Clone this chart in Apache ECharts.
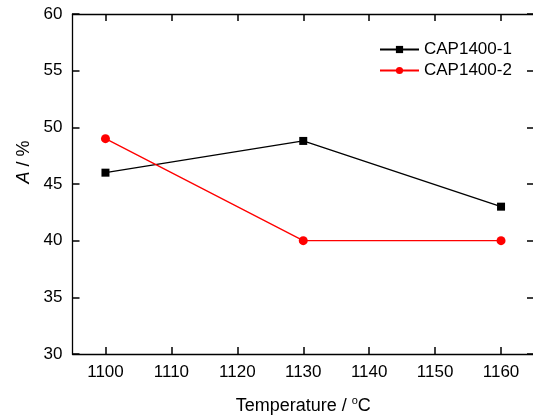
<!DOCTYPE html>
<html>
<head>
<meta charset="utf-8">
<script src="https://cdn.jsdelivr.net/npm/echarts@6/dist/echarts.min.js"></script>
<style>
  html, body { margin: 0; padding: 0; background: #fff; }
  #chart { width: 533px; height: 420px; }
</style>
</head>
<body>
<div id="chart"></div>
<script>
// values
const temperatures = [1100, 1130, 1160];
const cap1 = [46.0, 48.8, 43.0];
const cap2 = [49.0, 40.0, 40.0];
const xTicks = [1100, 1110, 1120, 1130, 1140, 1150, 1160];
const yTicks = [30, 35, 40, 45, 50, 55, 60];

const font = 'Arial, "Liberation Sans", sans-serif';

const chart = echarts.init(document.getElementById('chart'));

const pair = (xs, ys) => xs.map((x, i) => [x, ys[i]]);

const axisLine = () => ({ show: true, onZero: false, lineStyle: { color: '#000', width: 1.3 } });
const tick = (vals) => ({ show: true, inside: true, length: 7, customValues: vals, lineStyle: { color: '#000', width: 1.5 } });

chart.setOption({
    animation: false,
    textStyle: { fontFamily: font },
    grid: { left: 72.5, right: -1, top: 14, bottom: 66, outerBoundsMode: 'none' },
    legend: {
        orient: 'vertical',
        left: 374,
        top: 36,
        itemWidth: 39,
        itemHeight: 9,
        itemGap: 4,
        textStyle: { fontSize: 17, color: '#000', fontFamily: font },
        data: ['CAP1400-1', 'CAP1400-2']
    },
    xAxis: [
        {
            type: 'value',
            min: 1095,
            max: 1165,
            splitLine: { show: false },
            axisLine: axisLine(),
            axisTick: tick(xTicks),
            axisLabel: { customValues: xTicks, formatter: v => String(v), color: '#000', fontSize: 17, margin: 10 },
            name: 'Temperature / {s|o}C',
            nameLocation: 'middle',
            nameGap: 41,
            nameTextStyle: {
                fontSize: 18, color: '#000',
                rich: { s: { fontSize: 11, verticalAlign: 'top', padding: [0, 0, 12, 0] } }
            }
        },
        {
            type: 'value',
            position: 'top',
            min: 1095,
            max: 1165,
            splitLine: { show: false },
            axisLine: axisLine(),
            axisTick: tick(xTicks),
            axisLabel: { show: false }
        }
    ],
    yAxis: [
        {
            type: 'value',
            min: 30,
            max: 60,
            interval: 5,
            splitLine: { show: false },
            axisLine: axisLine(),
            axisTick: tick(yTicks),
            axisLabel: { color: '#000', fontSize: 17, margin: 10 },
            name: '{i|A} / %',
            nameLocation: 'middle',
            nameGap: 36,
            nameTextStyle: {
                fontSize: 18, color: '#000', padding: [0, 0, 0, 44],
                rich: { i: { fontStyle: 'italic', fontSize: 18 } }
            }
        },
        {
            type: 'value',
            position: 'right',
            min: 30,
            max: 60,
            interval: 5,
            splitLine: { show: false },
            axisLine: axisLine(),
            axisTick: tick(yTicks),
            axisLabel: { show: false }
        }
    ],
    series: [
        {
            name: 'CAP1400-1',
            type: 'line',
            data: pair(temperatures, cap1),
            symbol: 'rect',
            symbolSize: 8,
            itemStyle: { color: '#000' },
            lineStyle: { color: '#000', width: 1.3 }
        },
        {
            name: 'CAP1400-2',
            type: 'line',
            data: pair(temperatures, cap2),
            symbol: 'circle',
            symbolSize: 9,
            itemStyle: { color: '#ff0000' },
            lineStyle: { color: '#ff0000', width: 1.3 }
        }
    ]
});
</script>
</body>
</html>
